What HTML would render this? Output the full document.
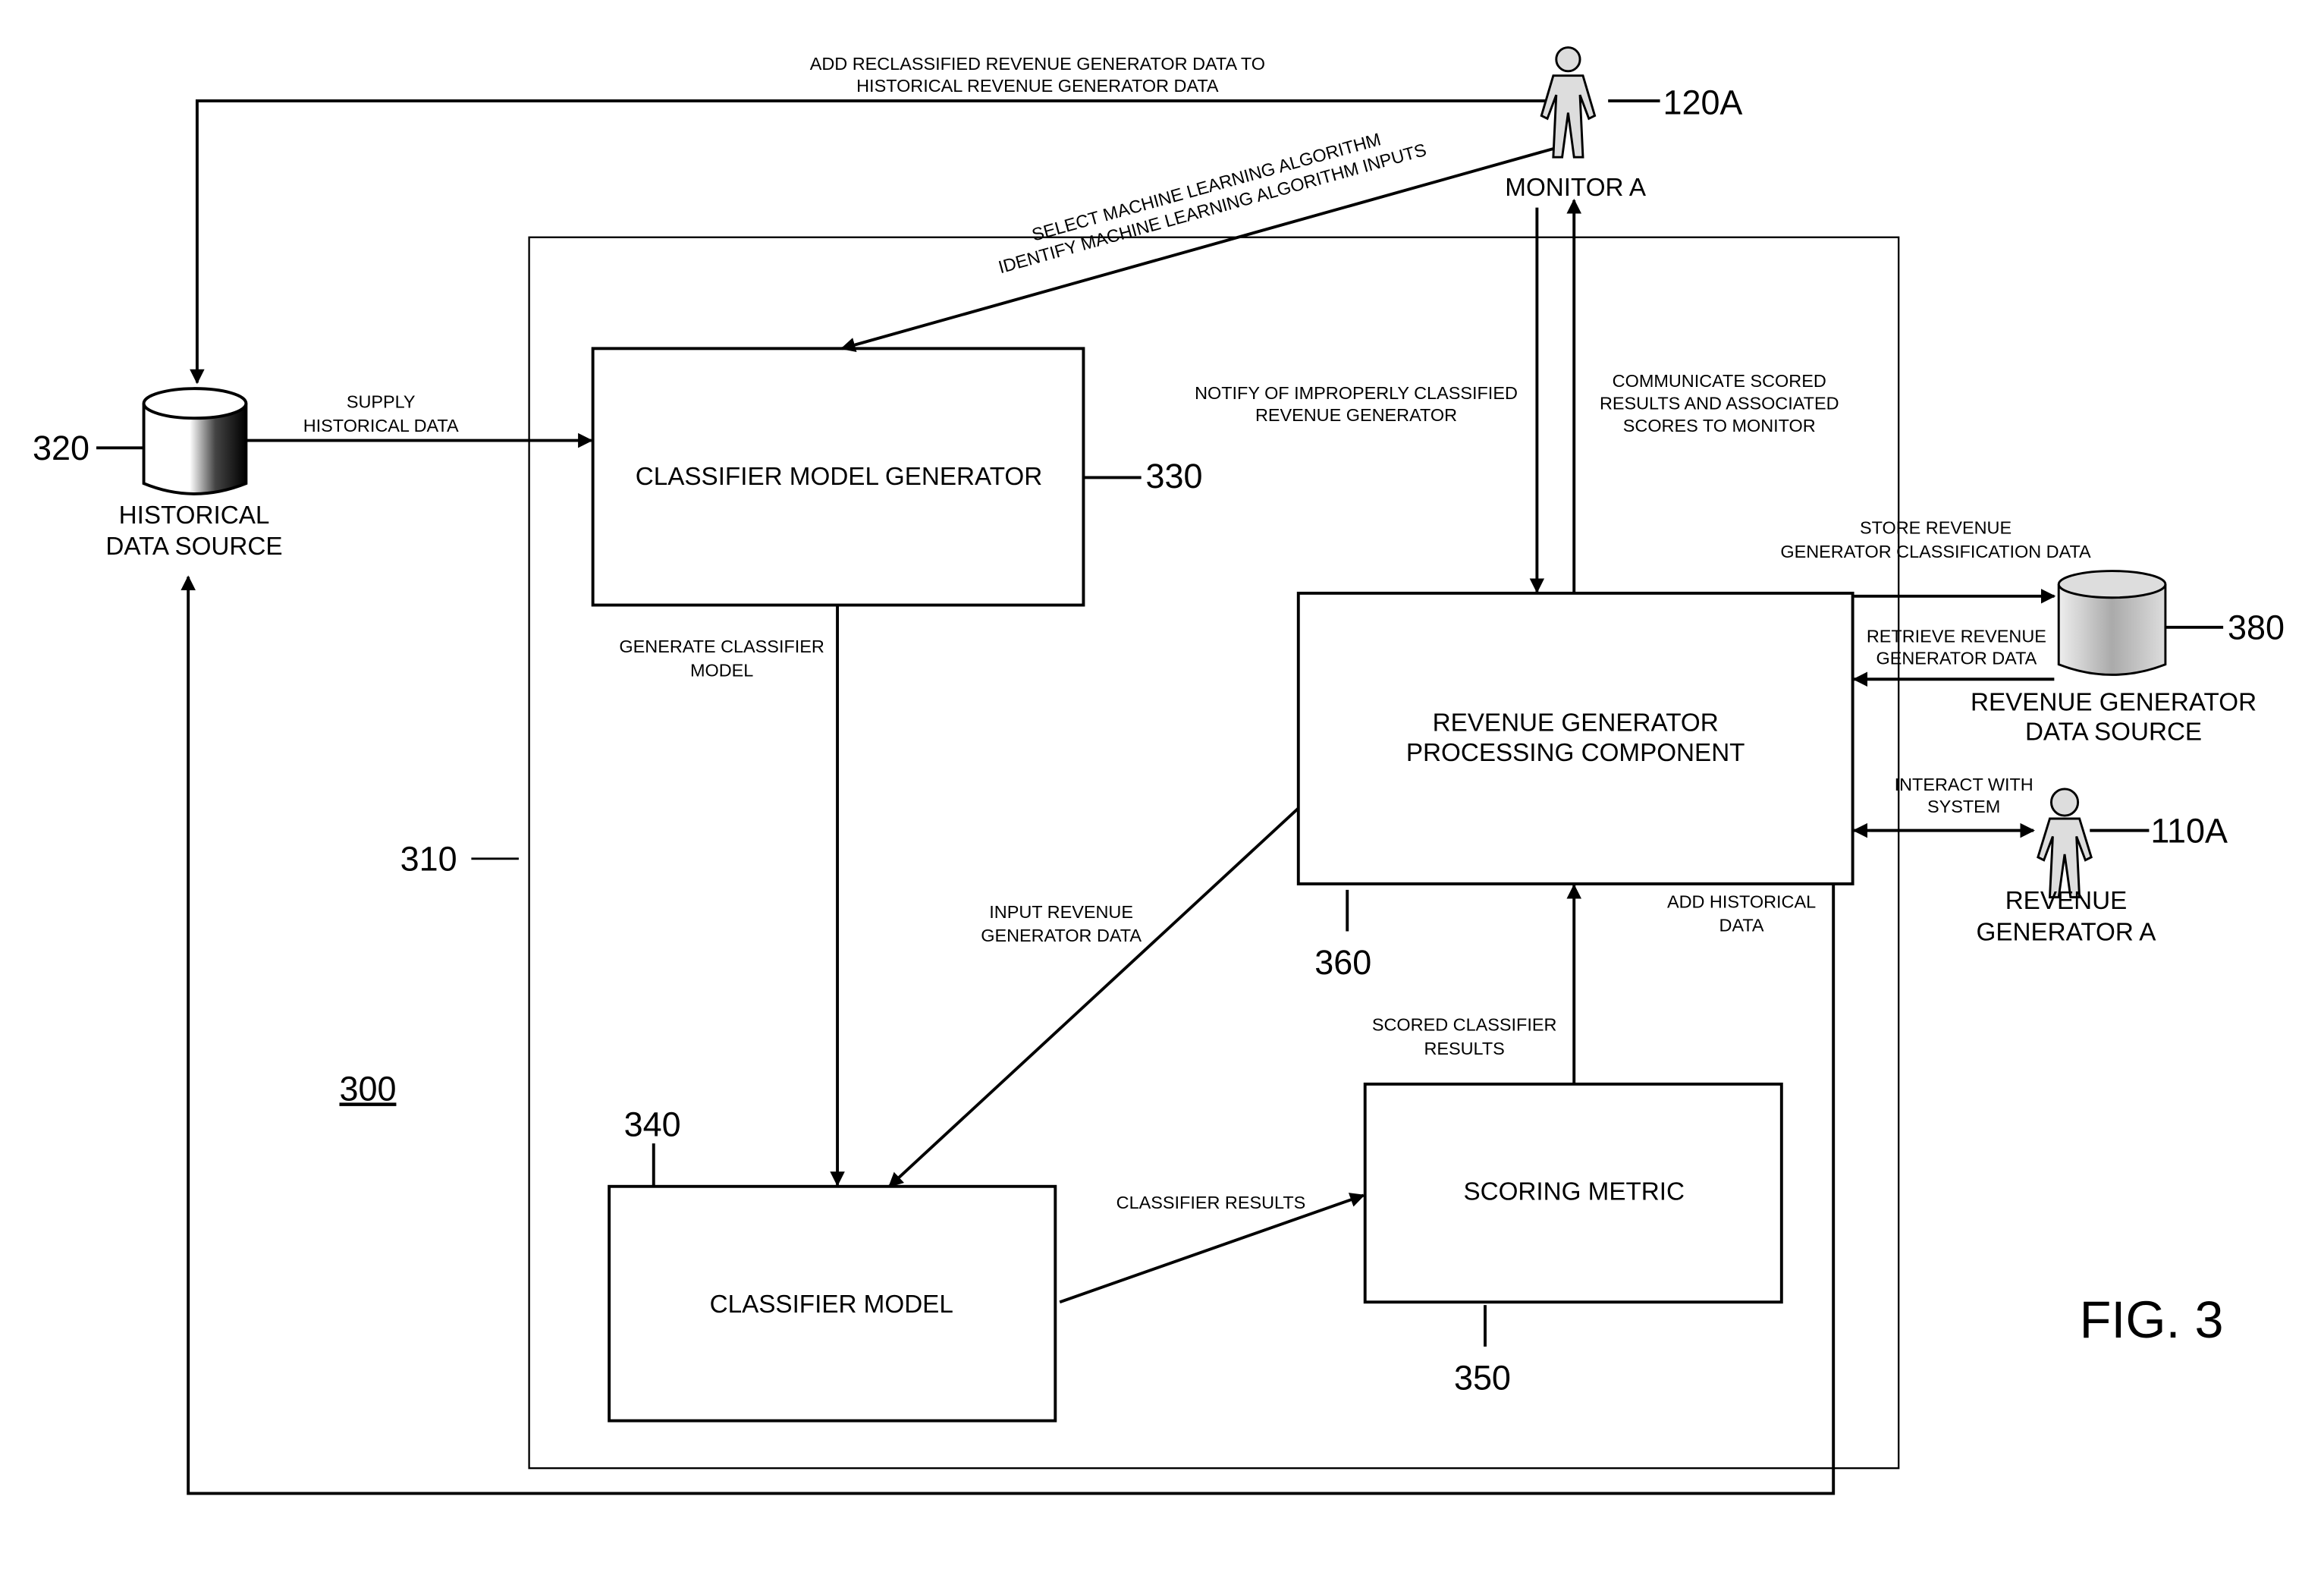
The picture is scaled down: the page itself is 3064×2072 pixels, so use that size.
<!DOCTYPE html>
<html><head><meta charset="utf-8"><style>
html,body{margin:0;padding:0;background:#fff}
svg{display:block}
text{font-family:"Liberation Sans",sans-serif;fill:#000}
.s{font-size:12px}
.m{font-size:17px}
.n{font-size:23px}
</style></head><body>
<svg width="3064" height="2072" viewBox="0 0 1568 1060" preserveAspectRatio="none" xmlns="http://www.w3.org/2000/svg">
<defs>
<marker id="a" markerWidth="10" markerHeight="10" refX="9" refY="5" orient="auto" markerUnits="userSpaceOnUse" viewBox="0 0 10 10"><path d="M0,0 L10,5 L0,10 z" fill="#000"/></marker>
<linearGradient id="g1" x1="0" x2="1"><stop offset="0" stop-color="#fff"/><stop offset="0.45" stop-color="#fff"/><stop offset="0.7" stop-color="#444"/><stop offset="1" stop-color="#000"/></linearGradient>
<linearGradient id="g2" x1="0" x2="1"><stop offset="0" stop-color="#eee"/><stop offset="0.5" stop-color="#aaa"/><stop offset="1" stop-color="#ddd"/></linearGradient>
</defs>
<g stroke="#000" fill="none" stroke-width="2">
<rect x="357" y="160" width="924" height="830" stroke-width="1.2"/>
<rect x="400" y="235" width="331" height="173"/>
<rect x="411" y="800" width="301" height="158"/>
<rect x="921" y="731" width="281" height="147"/>
<rect x="876" y="400" width="374" height="196"/>
<polyline points="1047,68 133,68 133,258" marker-end="url(#a)"/>
<line x1="1049" y1="100" x2="568" y2="235" marker-end="url(#a)"/>
<line x1="1037" y1="140" x2="1037" y2="399" marker-end="url(#a)"/>
<line x1="1062" y1="400" x2="1062" y2="135" marker-end="url(#a)"/>
<line x1="166" y1="297" x2="399" y2="297" marker-end="url(#a)"/>
<line x1="565" y1="408" x2="565" y2="799" marker-end="url(#a)"/>
<line x1="876" y1="545" x2="600" y2="800" marker-end="url(#a)"/>
<line x1="715" y1="878" x2="920" y2="806" marker-end="url(#a)"/>
<line x1="1062" y1="731" x2="1062" y2="597" marker-end="url(#a)"/>
<polyline points="1237,596 1237,1007 127,1007 127,389" marker-end="url(#a)"/>
<line x1="1251" y1="402" x2="1386" y2="402" marker-end="url(#a)"/>
<line x1="1386" y1="458" x2="1251" y2="458" marker-end="url(#a)"/>
<line x1="1262" y1="560" x2="1372" y2="560" marker-end="url(#a)"/>
<line x1="1262" y1="560" x2="1251" y2="560" marker-end="url(#a)"/>
<line x1="65" y1="302" x2="97" y2="302"/>
<line x1="731" y1="322" x2="770" y2="322"/>
<line x1="318" y1="579" x2="350" y2="579" stroke-width="1.5"/>
<line x1="441" y1="771" x2="441" y2="800"/>
<line x1="909" y1="600" x2="909" y2="628"/>
<line x1="1002" y1="880" x2="1002" y2="908"/>
<line x1="1085" y1="68" x2="1120" y2="68"/>
<line x1="1410" y1="560" x2="1450" y2="560"/>
<line x1="1461" y1="423" x2="1500" y2="423"/>
</g>
<g stroke="#000" stroke-width="2">
<path d="M97,272 L97,326 Q131,340 166,326 L166,272" fill="url(#g1)"/>
<ellipse cx="131.5" cy="272" rx="34.5" ry="10" fill="#fff"/>
</g>
<g stroke="#000" stroke-width="1.5">
<path d="M1389,394 L1389,448 Q1425,462 1461,448 L1461,394" fill="url(#g2)"/>
<ellipse cx="1425" cy="394" rx="36" ry="9" fill="#ddd"/>
</g>
<g stroke="#000" stroke-width="1.5" fill="#ddd">
<circle cx="1058" cy="40" r="8"/>
<path d="M1048,51 L1068,51 L1076,78 L1072,80 L1066,64 L1068,106 L1062,106 L1058,76 L1054,106 L1048,106 L1050,64 L1044,80 L1040,78 Z"/>
<circle cx="1393" cy="541" r="9"/>
<path d="M1383,552 L1403,552 L1411,578 L1407,580 L1401,564 L1403,605 L1397,605 L1393,576 L1389,605 L1383,605 L1385,564 L1379,580 L1375,578 Z"/>
</g>
<g class="s" text-anchor="middle">
<text x="700" y="47">ADD RECLASSIFIED REVENUE GENERATOR DATA TO</text>
<text x="700" y="62">HISTORICAL REVENUE GENERATOR DATA</text>
<text x="257" y="275">SUPPLY</text>
<text x="257" y="291">HISTORICAL DATA</text>
<text x="487" y="440">GENERATE CLASSIFIER</text>
<text x="487" y="456">MODEL</text>
<text x="915" y="269">NOTIFY OF IMPROPERLY CLASSIFIED</text>
<text x="915" y="284">REVENUE GENERATOR</text>
<text x="1160" y="261">COMMUNICATE SCORED</text>
<text x="1160" y="276">RESULTS AND ASSOCIATED</text>
<text x="1160" y="291">SCORES TO MONITOR</text>
<text x="1306" y="360">STORE REVENUE</text>
<text x="1306" y="376">GENERATOR CLASSIFICATION DATA</text>
<text x="1320" y="433">RETRIEVE REVENUE</text>
<text x="1320" y="448">GENERATOR DATA</text>
<text x="1325" y="533">INTERACT WITH</text>
<text x="1325" y="548">SYSTEM</text>
<text x="1175" y="612">ADD HISTORICAL</text>
<text x="1175" y="628">DATA</text>
<text x="716" y="619">INPUT REVENUE</text>
<text x="716" y="635">GENERATOR DATA</text>
<text x="988" y="695">SCORED CLASSIFIER</text>
<text x="988" y="711">RESULTS</text>
<text x="817" y="815">CLASSIFIER RESULTS</text>
<g transform="translate(815,130) rotate(-15.5)">
<text x="0" y="0">SELECT MACHINE LEARNING ALGORITHM</text>
<text x="0" y="15">IDENTIFY MACHINE LEARNING ALGORITHM INPUTS</text>
</g>
</g>
<g class="m" text-anchor="middle">
<text x="566" y="327">CLASSIFIER MODEL GENERATOR</text>
<text x="561" y="885">CLASSIFIER MODEL</text>
<text x="1062" y="809">SCORING METRIC</text>
<text x="1063" y="493">REVENUE GENERATOR</text>
<text x="1063" y="513">PROCESSING COMPONENT</text>
<text x="131" y="353">HISTORICAL</text>
<text x="131" y="374">DATA SOURCE</text>
<text x="1063" y="132">MONITOR A</text>
<text x="1426" y="479">REVENUE GENERATOR</text>
<text x="1426" y="499">DATA SOURCE</text>
<text x="1394" y="613">REVENUE</text>
<text x="1394" y="634">GENERATOR A</text>
</g>
<g class="n">
<text x="22" y="310">320</text>
<text x="773" y="329">330</text>
<text x="270" y="587">310</text>
<text x="421" y="766">340</text>
<text x="887" y="657">360</text>
<text x="981" y="937">350</text>
<text x="1122" y="77">120A</text>
<text x="1451" y="568">110A</text>
<text x="1503" y="431">380</text>
<text x="229" y="742" text-decoration="underline">300</text>
<text x="1403" y="902" style="font-size:35px">FIG. 3</text>
</g>
</svg>
</body></html>
